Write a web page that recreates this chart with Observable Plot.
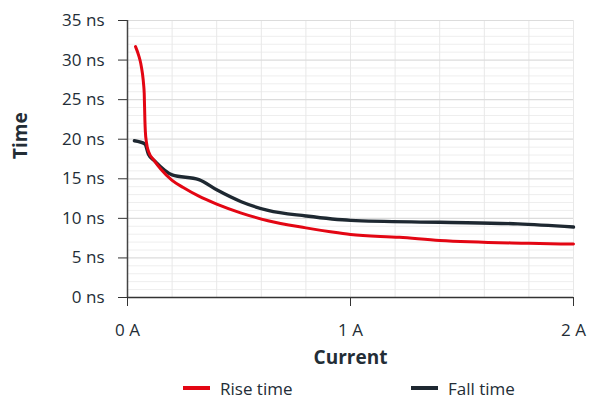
<!DOCTYPE html>
<html>
<head>
<meta charset="utf-8">
<script src="https://cdn.jsdelivr.net/npm/d3@7"></script>
<script src="https://cdn.jsdelivr.net/npm/@observablehq/plot@0.6"></script>
<style>
  html, body { margin: 0; padding: 0; background: #fff; }
  body { width: 589px; height: 399px; overflow: hidden; font-family: "Open Sans", sans-serif; color: #232d36; }
  #chart svg { display: block; }
  .legend { position: relative; height: 29px; font-size: 17px; }
  .legend .item { position: absolute; top: 0; display: flex; align-items: center; height: 36px; }
  .legend .sw { width: 27px; height: 4px; margin-right: 10px; }
</style>
</head>
<body>
<div id="chart"></div>
<div class="legend">
  <div class="item" style="left:183px"><span class="sw" style="background:#e30613"></span><span>Rise time</span></div>
  <div class="item" style="left:411px"><span class="sw" style="background:#1e2831"></span><span>Fall time</span></div>
</div>
<script>
// Rise time (ns) versus current (A)
const riseCurrent = [0.036, 0.050, 0.060, 0.067, 0.072, 0.075, 0.078, 0.080, 0.085, 0.095, 0.12, 0.15, 0.2, 0.25, 0.32, 0.4, 0.507, 0.63, 0.8, 0.91, 1.0, 1.22, 1.4, 1.8, 2.0];
const riseTime    = [31.7, 30.6, 29.5, 28.3, 27.0, 25.8, 22.4, 21.0, 19.6, 18.4, 17.3, 16.2, 14.8, 13.9, 12.8, 11.8, 10.7, 9.7, 8.8, 8.3, 7.95, 7.6, 7.2, 6.85, 6.75];

// Fall time (ns) versus current (A)
const fallCurrent = [0.031, 0.078, 0.094, 0.12, 0.2, 0.32, 0.4, 0.51, 0.63, 0.8, 1.0, 1.4, 1.75, 2.0];
const fallTime    = [19.8, 19.4, 18.1, 17.3, 15.5, 14.9, 13.6, 12.1, 11.0, 10.3, 9.75, 9.5, 9.3, 8.9];

const yTicks = [0, 5, 10, 15, 20, 25, 30, 35];
const xTicks = [0, 1, 2];
const yMinor = d3.range(0, 36, 1);
const xGrid = d3.range(0, 2.0001, 0.2);

const rise = riseCurrent.map((x, i) => ({x, y: riseTime[i]}));
const fall = fallCurrent.map((x, i) => ({x, y: fallTime[i]}));

const ink = "#232d36";

const chart = Plot.plot({
  width: 589,
  height: 370,
  marginLeft: 127,
  marginRight: 16,
  marginTop: 20,
  marginBottom: 73,
  style: {fontFamily: "Open Sans, sans-serif", fontSize: "17px", color: ink, background: "#fff"},
  x: {domain: [0, 2]},
  y: {domain: [0, 35]},
  marks: [
    Plot.ruleY(yMinor.filter(d => d % 5 !== 0), {stroke: "#eeeeee", strokeWidth: 1}),
    Plot.ruleX(xGrid.slice(1), {stroke: "#e8e8e8", strokeWidth: 1}),
    Plot.ruleY(yTicks.slice(1), {stroke: "#dcdcdc", strokeWidth: 1.2}),
    Plot.axisY({ticks: yTicks, tickSize: 9, tickPadding: 14, tickFormat: d => `${d} ns`, stroke: "#333", label: null, fontSize: 17}),
    Plot.axisX({ticks: xTicks, tickSize: 9, tickPadding: 17, tickFormat: d => `${d} A`, stroke: "#333", label: null, fontSize: 17}),
    Plot.ruleX([0], {stroke: "#444", strokeWidth: 1.5}),
    Plot.ruleY([0], {stroke: "#333", strokeWidth: 1.5}),
    Plot.line(fall, {x: "x", y: "y", stroke: "#1e2831", strokeWidth: 3.4, curve: "monotone-x"}),
    Plot.line(rise, {x: "x", y: "y", stroke: "#e30613", strokeWidth: 3, curve: "monotone-x"}),
    Plot.text(["Time"], {frameAnchor: "left", dx: -107, rotate: -90, fontWeight: "bold", fontSize: 19, fill: ink}),
    Plot.text(["Current"], {frameAnchor: "bottom", dy: 66, fontWeight: "bold", fontSize: 19, fill: ink})
  ]
});
document.getElementById("chart").appendChild(chart);
</script>
</body>
</html>
